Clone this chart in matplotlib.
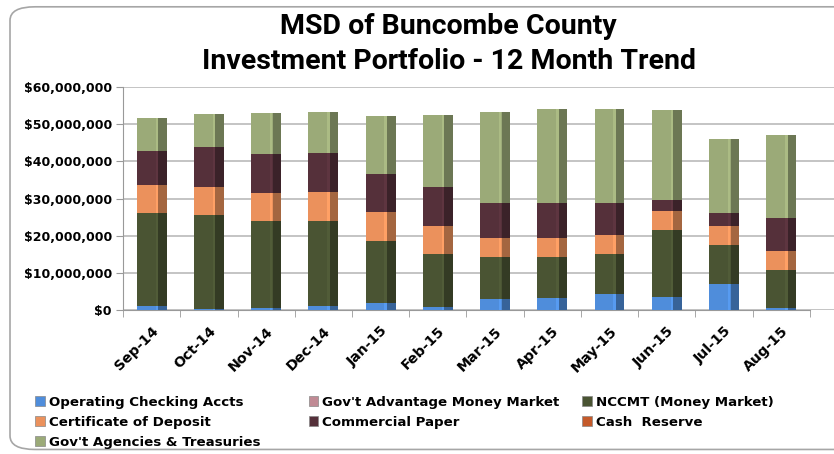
import matplotlib.pyplot as plt
import numpy as np
from matplotlib.patches import FancyBboxPatch, Patch
from matplotlib.ticker import FuncFormatter, FixedLocator
from matplotlib.colors import to_rgb

months = ['Sep-14', 'Oct-14', 'Nov-14', 'Dec-14', 'Jan-15', 'Feb-15',
          'Mar-15', 'Apr-15', 'May-15', 'Jun-15', 'Jul-15', 'Aug-15']

# values in millions of dollars
operating = [1.1, 0.4, 0.5, 1.2, 1.9, 0.8, 3.0, 3.2, 4.2, 3.5, 6.9, 0.5]
gov_advantage = [0, 0, 0, 0, 0, 0, 0, 0, 0, 0, 0, 0]
nccmt = [25.1, 25.1, 23.4, 22.9, 16.7, 14.2, 11.2, 11.0, 11.0, 18.0, 10.6, 10.3]
cert_deposit = [7.6, 7.7, 7.7, 7.6, 7.7, 7.7, 5.2, 5.2, 5.1, 5.1, 5.1, 5.1]
comm_paper = [8.9, 10.6, 10.5, 10.7, 10.4, 10.3, 9.3, 9.3, 8.4, 3.0, 3.4, 9.0]
cash_reserve = [0, 0, 0, 0, 0, 0, 0, 0, 0, 0, 0, 0]
gov_agencies = [9.1, 8.9, 11.0, 10.9, 15.6, 19.4, 24.5, 25.3, 25.3, 24.3, 20.0, 22.1]

series = [
    ('Operating Checking Accts', operating, '#4F8DDB'),
    ("Gov't Advantage Money Market", gov_advantage, '#C08A94'),
    ('NCCMT (Money Market)', nccmt, '#4A5433'),
    ('Certificate of Deposit', cert_deposit, '#EB915C'),
    ('Commercial Paper', comm_paper, '#55303A'),
    ('Cash  Reserve', cash_reserve, '#C45A2A'),
    ("Gov't Agencies & Treasuries", gov_agencies, '#9BAA78'),
]

fig = plt.figure(figsize=(8.34, 4.54), dpi=100)
fig.patch.set_facecolor('white')

frame = FancyBboxPatch((0.012, 0.01), 1.1, 0.975, boxstyle='round,pad=0,rounding_size=0.03',
                       transform=fig.transFigure, facecolor='none', edgecolor='#A6A6A6',
                       lw=1.2, zorder=-1)
fig.patches.append(frame)

ax = fig.add_axes([0.1475, 0.317, 0.8525, 0.491])
ax.set_facecolor('none')

x = np.arange(len(months))
width = 0.52
bottom = np.zeros(len(months))
handles = []
for name, vals, col in series:
    v = np.array(vals) * 1e6
    ax.bar(x, v, width, bottom=bottom, color=col, zorder=3, lw=0)
    dark = tuple(c * 0.7 for c in to_rgb(col))
    ax.bar(x + width * 0.36, v, width * 0.28, bottom=bottom, color=dark, zorder=4, lw=0)
    light = tuple(min(1, c * 1.1) for c in to_rgb(col))
    ax.bar(x + width * 0.17, v, width * 0.08, bottom=bottom, color=light, zorder=4, lw=0)
    bottom += v
    handles.append(Patch(facecolor=col, edgecolor='#888888', lw=0.5, label=name))

ax.set_xlim(-0.5, 11.92)
ax.set_ylim(0, 60e6)
ax.set_yticks(np.arange(0, 60e6 + 1, 10e6))
ax.yaxis.set_major_formatter(FuncFormatter(lambda v, p: f'${v:,.0f}'))
ax.yaxis.grid(True, color='#BFBFBF', lw=1.3, zorder=0)
ax.set_axisbelow(True)

ax.set_xticks(x)
ax.set_xticklabels(months, rotation=45, ha='right', rotation_mode='anchor',
                   fontsize=10.2, fontweight='bold')
ax.tick_params(axis='x', length=0, pad=10)
ax.xaxis.set_minor_locator(FixedLocator(np.arange(-0.5, 12, 1)))
ax.tick_params(axis='x', which='minor', length=5, color='#999999', direction='out')
ax.tick_params(axis='y', length=5, color='#999999', labelsize=9, pad=3)
for lab in ax.get_yticklabels():
    lab.set_fontweight('bold')

for s in ['top', 'right']:
    ax.spines[s].set_visible(False)
ax.spines['left'].set_color('#999999')
ax.spines['bottom'].set_color('#999999')
ax.spines['bottom'].set_bounds(-0.5, 11.5)

fig.text(0.538, 0.942, 'MSD of Buncombe County', ha='center', va='center',
         fontsize=20.5, fontweight='bold', family='Roboto')
fig.text(0.538, 0.864, 'Investment Portfolio - 12 Month Trend', ha='center', va='center',
         fontsize=20.5, fontweight='bold', family='Roboto')

# one legend per column, placed where the reference columns start
columns = [[0, 3, 6], [1, 4], [2, 5]]
col_x = [0.036, 0.364, 0.692]
for idx, cx in zip(columns, col_x):
    fig.legend([handles[i] for i in idx], [handles[i].get_label() for i in idx],
               loc='upper left', bbox_to_anchor=(cx, 0.14), ncol=1, frameon=False,
               prop={'size': 9.6, 'weight': 'bold'}, handlelength=0.7, handleheight=0.7,
               handletextpad=0.3, labelspacing=0.52, borderaxespad=0)

plt.savefig('out.png', dpi=100)
